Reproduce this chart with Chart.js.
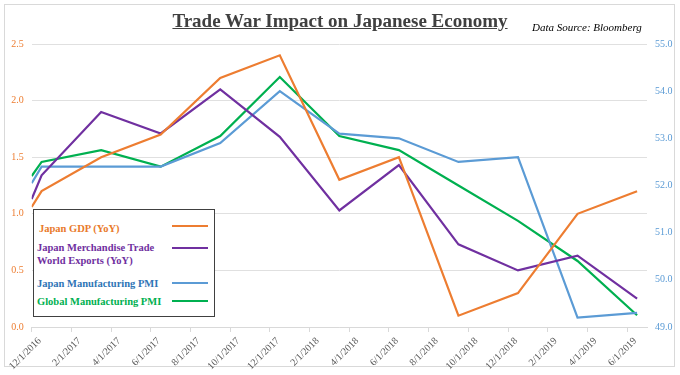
<!DOCTYPE html>
<html lang="en">
<head>
  <meta charset="UTF-8">
  <title>Trade War Impact on Japanese Economy</title>
  <script src="https://cdn.jsdelivr.net/npm/chart.js"></script>
  <style>
    html, body {
      margin: 0;
      padding: 0;
      background: white;
    }
    #wrap {
      position: relative;
      width: 680px;
      height: 375px;
      font-family: "Liberation Serif", "Times New Roman", serif;
    }
    #frame {
      position: absolute;
      left: 4px; top: 4px;
      width: 671px; height: 363px;
      border: 1px solid #d9d9d9;
      box-sizing: border-box;
    }
    canvas {
      position: absolute;
      left: 0; top: 0;
    }
    #title {
      position: absolute;
      left: 0; width: 680px;
      top: 10px;
      text-align: center;
      font-size: 19px;
      font-weight: bold;
      text-decoration: underline;
      color: #404040;
    }
    #source {
      position: absolute;
      left: 532px; top: 21px;
      font-size: 11px;
      font-style: italic;
      color: #000;
    }
    #legend {
      position: absolute;
      left: 33px; top: 209px;
      width: 182px; height: 108px;
      border: 1px solid #404040;
      background: white;
      box-sizing: border-box;
      font-weight: bold;
      font-size: 10.5px;
    }
    .lg-text {
      position: absolute;
      line-height: 13px;
    }
    .lg-line {
      position: absolute;
      left: 138px;
      width: 36px;
      height: 0;
      border-top: 2px solid;
    }
  </style>
</head>
<body>
<div id="wrap">
  <div id="frame"></div>
  <canvas id="chart" width="680" height="375"></canvas>
  <div id="title">Trade War Impact on Japanese Economy</div>
  <div id="source">Data Source: Bloomberg</div>
  <div id="legend"></div>
</div>

<script>
  // x positions in months counted from 12/1/2016
  const tickMonths = [0, 2, 4, 6, 8, 10, 12, 14, 16, 18, 20, 22, 24, 26, 28, 30];
  const tickLabels = ["12/1/2016", "2/1/2017", "4/1/2017", "6/1/2017", "8/1/2017", "10/1/2017",
    "12/1/2017", "2/1/2018", "4/1/2018", "6/1/2018", "8/1/2018", "10/1/2018",
    "12/1/2018", "2/1/2019", "4/1/2019", "6/1/2019"];
  const pointMonths = [0, 0.5, 3.5, 6.5, 9.5, 12.5, 15.5, 18.5, 21.5, 24.5, 27.5, 30.5];

  // left axis (%)
  const gdpYoY = [1.06, 1.2, 1.5, 1.7, 2.2, 2.4, 1.3, 1.5, 0.1, 0.3, 1.0, 1.2];
  const exportsYoY = [1.13, 1.34, 1.9, 1.71, 2.1, 1.68, 1.03, 1.43, 0.73, 0.5, 0.63, 0.25];
  // right axis (index)
  const japanPMI = [52.05, 52.4, 52.4, 52.4, 52.9, 54.0, 53.1, 53.0, 52.5, 52.6, 49.2, 49.3];
  const globalPMI = [52.2, 52.5, 52.75, 52.4, 53.05, 54.3, 53.05, 52.75, 52.0, 51.25, 50.4, 49.25];

  const seriesNames = ["Japan GDP (YoY)", "Japan Merchandise Trade\nWorld Exports (YoY)",
    "Japan Manufacturing PMI", "Global Manufacturing PMI"];

  const lineColors = ["#ED7D31", "#7030A0", "#5B9BD5", "#00B050"];
  const textColors = ["#E97A2B", "#7030A0", "#2E75B6", "#00B050"];

  function pts(vals) {
    return vals.map((v, i) => ({ x: pointMonths[i], y: v }));
  }

  // legend box
  const legend = document.getElementById("legend");
  const textTops = [12, 31, 67, 85];
  const lineTops = [15, 37, 72, 90];
  seriesNames.forEach((name, i) => {
    const t = document.createElement("div");
    t.className = "lg-text";
    t.style.left = (i === 0 ? 5 : 3) + "px";
    t.style.top = textTops[i] + "px";
    t.style.color = textColors[i];
    t.innerHTML = name.replace("\n", "<br>");
    legend.appendChild(t);
    const l = document.createElement("div");
    l.className = "lg-line";
    l.style.top = lineTops[i] + "px";
    l.style.borderColor = lineColors[i];
    legend.appendChild(l);
  });

  const serif = "'Liberation Serif', 'Times New Roman', serif";

  const ctx = document.getElementById("chart").getContext("2d");
  new Chart(ctx, {
    type: "line",
    data: {
      datasets: [
        { label: seriesNames[0], data: pts(gdpYoY), borderColor: lineColors[0], yAxisID: "y" },
        { label: seriesNames[1], data: pts(exportsYoY), borderColor: lineColors[1], yAxisID: "y" },
        { label: seriesNames[2], data: pts(japanPMI), borderColor: lineColors[2], yAxisID: "y1" },
        { label: seriesNames[3], data: pts(globalPMI), borderColor: lineColors[3], yAxisID: "y1" }
      ]
    },
    options: {
      responsive: false,
      animation: false,
      layout: { padding: { top: 44 } },
      elements: {
        line: { borderWidth: 2.2, tension: 0, fill: false },
        point: { radius: 0 }
      },
      plugins: {
        legend: { display: false },
        tooltip: { enabled: false }
      },
      scales: {
        x: {
          type: "linear",
          min: 0,
          max: 31,
          afterBuildTicks: (scale) => {
            scale.ticks = tickMonths.map(v => ({ value: v }));
          },
          afterFit: (scale) => { scale.height = 48; },
          ticks: {
            autoSkip: false,
            minRotation: 45,
            maxRotation: 45,
            padding: 3,
            labelOffset: 8,
            color: "#595959",
            font: { family: serif, size: 10 },
            callback: (v, i) => tickLabels[i]
          },
          grid: {
            drawOnChartArea: false,
            tickLength: 5,
            color: "#d9d9d9"
          },
          border: { color: "#d9d9d9" }
        },
        y: {
          position: "left",
          min: 0,
          max: 2.5,
          afterFit: (scale) => { scale.width = 30; },
          ticks: {
            stepSize: 0.5,
            padding: 8,
            color: "#ED7D31",
            font: { family: serif, size: 10 },
            callback: v => v.toFixed(1)
          },
          grid: { color: "#e0e0e0", drawTicks: false },
          border: { display: false }
        },
        y1: {
          position: "right",
          min: 49,
          max: 55,
          afterFit: (scale) => { scale.width = 33; },
          ticks: {
            stepSize: 1,
            padding: 8,
            color: "#5B9BD5",
            font: { family: serif, size: 10 },
            callback: v => v.toFixed(1)
          },
          grid: { drawOnChartArea: false, drawTicks: false },
          border: { display: false }
        }
      }
    }
  });
</script>
</body>
</html>
